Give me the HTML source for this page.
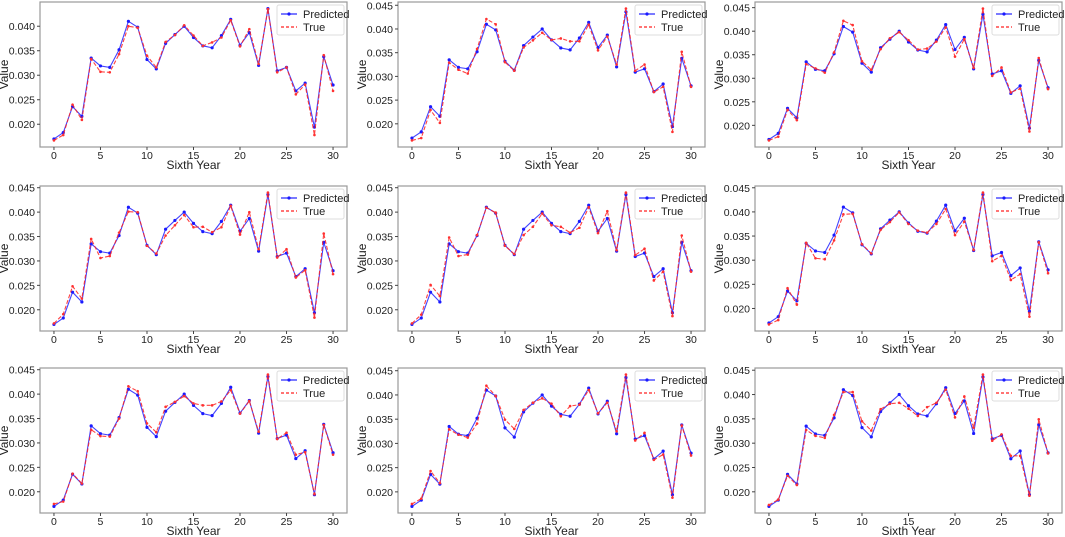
<!DOCTYPE html>
<html><head><meta charset="utf-8"><style>
html,body{margin:0;padding:0;background:#fff;width:1065px;height:537px;overflow:hidden}
svg text{font-family:"Liberation Sans",sans-serif;fill:#222}
</style></head><body>
<svg id="fig" width="1065" height="537" xmlns="http://www.w3.org/2000/svg"></svg>
<script>
const years = [0,1,2,3,4,5,6,7,8,9,10,11,12,13,14,15,16,17,18,19,20,21,22,23,24,25,26,27,28,29,30];
const xTicks = [0,5,10,15,20,25,30];
const predicted = [.0170,.0183,.0236,.0216,.0335,.0319,.0316,.0352,.0410,.0398,.0332,.0313,.0365,.0383,.0400,.0377,.0360,.0356,.0381,.0414,.0361,.0387,.0320,.0436,.0309,.0316,.0268,.0284,.0194,.0338,.0280];
const true1 = [.0167,.0178,.0240,.0209,.0333,.0307,.0306,.0343,.0400,.0397,.0340,.0316,.0368,.0382,.0402,.0381,.0360,.0367,.0377,.0412,.0359,.0394,.0323,.0435,.0306,.0316,.0261,.0281,.0178,.0341,.0268];
const true2 = [.0165,.0170,.0229,.0202,.0329,.0314,.0306,.0358,.0421,.0410,.0330,.0312,.0361,.0376,.0392,.0377,.0380,.0374,.0374,.0409,.0355,.0384,.0325,.0443,.0312,.0325,.0267,.0278,.0183,.0352,.0278];
const true3 = [.0168,.0176,.0233,.0211,.0330,.0321,.0312,.0355,.0422,.0413,.0336,.0318,.0362,.0385,.0398,.0381,.0361,.0363,.0378,.0408,.0346,.0383,.0322,.0448,.0305,.0323,.0270,.0278,.0187,.0343,.0277];
const true4 = [.0172,.0191,.0248,.0223,.0345,.0306,.0310,.0358,.0401,.0400,.0331,.0315,.0352,.0373,.0394,.0369,.0370,.0359,.0369,.0413,.0354,.0400,.0324,.0440,.0307,.0324,.0266,.0281,.0184,.0356,.0273];
const true5 = [.0172,.0190,.0251,.0228,.0348,.0310,.0313,.0353,.0409,.0399,.0331,.0314,.0353,.0370,.0397,.0373,.0370,.0358,.0368,.0410,.0357,.0402,.0322,.0440,.0312,.0325,.0260,.0278,.0187,.0352,.0278];
const true6 = [.0167,.0176,.0242,.0208,.0336,.0304,.0302,.0341,.0395,.0396,.0333,.0314,.0363,.0379,.0399,.0375,.0361,.0357,.0375,.0406,.0352,.0380,.0321,.0440,.0298,.0309,.0259,.0271,.0183,.0337,.0273];
const true7 = [.0175,.0180,.0237,.0217,.0327,.0314,.0313,.0350,.0416,.0406,.0340,.0322,.0374,.0384,.0396,.0381,.0377,.0377,.0385,.0408,.0360,.0386,.0323,.0440,.0308,.0321,.0276,.0281,.0195,.0337,.0276];
const true8 = [.0175,.0186,.0243,.0218,.0329,.0318,.0312,.0341,.0419,.0398,.0349,.0330,.0369,.0384,.0393,.0382,.0356,.0377,.0380,.0410,.0362,.0384,.0325,.0442,.0306,.0322,.0266,.0277,.0188,.0337,.0275];
const true9 = [.0173,.0184,.0233,.0214,.0327,.0315,.0311,.0358,.0405,.0405,.0345,.0326,.0370,.0381,.0383,.0371,.0356,.0374,.0383,.0410,.0353,.0396,.0332,.0441,.0305,.0318,.0274,.0274,.0192,.0349,.0279];
const trueSeries = [true1,true2,true3,true4,true5,true6,true7,true8,true9];

const NS = "http://www.w3.org/2000/svg";
const svg = document.getElementById('fig');
function mk(tag, attrs, parent){const e=document.createElementNS(NS,tag);for(const k in attrs)e.setAttribute(k,attrs[k]);(parent||svg).appendChild(e);return e;}

const colLeft=[40,398,755], rowTop=[2,186,368], W=307, H=145;

for(let p=0;p<9;p++){
  const c=p%3, r=Math.floor(p/3);
  const L=colLeft[c], T=rowTop[r];
  const tv=trueSeries[p];
  const all=predicted.concat(tv);
  let mn=Math.min(...all), mx=Math.max(...all), pad=(mx-mn)*0.05;
  const y0=mn-pad, y1=mx+pad;
  const xS=v=>L+(v+1.5)/33*W;
  const yS=v=>T+H-(v-y0)/(y1-y0)*H;
  const g=mk('g',{});
  
  
  const frame=mk('rect',{x:L,y:T,width:W,height:H,fill:'#fff',stroke:'#999','stroke-width':1.2},g);
  
  
  for(const t of xTicks){
    const x=xS(t);
    mk('line',{x1:x,x2:x,y1:T+H,y2:T+H+3,stroke:'#444'},g);
    const tx=mk('text',{x:x,y:T+H+12,'font-size':10.5,'text-anchor':'middle'},g);
    tx.textContent=t;
    
    
  }
  for(let k=Math.ceil(y0/0.005);k*0.005<=y1+1e-9;k++){
    const v=k*0.005, y=yS(v);
    mk('line',{x1:L-3,x2:L,y1:y,y2:y,stroke:'#444'},g);
    const ty=mk('text',{x:L-5,y:y+4,'font-size':10.5,'text-anchor':'end'},g);
    ty.textContent=v.toFixed(3);
    
    
  }
  const xt=mk('text',{x:L+W/2,y:T+H+22,'font-size':12,'text-anchor':'middle'},g);
  xt.textContent='Sixth Year';
  
  
  const yt=mk('text',{x:0,y:0,'font-size':12,'text-anchor':'middle',transform:`translate(${L-32},${T+H/2}) rotate(-90)`},g);
  yt.textContent='Value';
  
  
  const pp=predicted.map((v,i)=>xS(years[i])+','+yS(v)).join(' ');
  const tp=tv.map((v,i)=>xS(years[i])+','+yS(v)).join(' ');
  const pl=mk('polyline',{points:pp,fill:'none',stroke:'#2222ff','stroke-width':1.1,'stroke-opacity':0.85},g);
  
  
  predicted.forEach((v,i)=>{const d=mk('circle',{cx:xS(years[i]),cy:yS(v),r:1.6,fill:'#1a1aff'},g);
    
    });
  const tl=mk('polyline',{points:tp,fill:'none',stroke:'#ff2020','stroke-width':1.1,'stroke-dasharray':'4,2','stroke-opacity':0.85},g);
  
  
  tv.forEach((v,i)=>{const d=mk('circle',{cx:xS(years[i]),cy:yS(v),r:1.3,fill:'#ff3030'},g);
    
    });
  const lx=L+W-70, ly=T+3;
  const lg=mk('g',{},g);
  
  
  mk('rect',{x:lx,y:ly,width:67,height:30,rx:2,fill:'#fff','fill-opacity':0.85,stroke:'#ddd'},lg);
  mk('line',{x1:lx+4,x2:lx+20,y1:ly+9,y2:ly+9,stroke:'#2222ff','stroke-width':1.2},lg);
  mk('circle',{cx:lx+12,cy:ly+9,r:1.6,fill:'#1a1aff'},lg);
  const l1=mk('text',{x:lx+26,y:ly+13,'font-size':11},lg); l1.textContent='Predicted';
  
  
  mk('line',{x1:lx+4,x2:lx+20,y1:ly+22,y2:ly+22,stroke:'#ff2020','stroke-width':1.2,'stroke-dasharray':'3,2'},lg);
  const l2=mk('text',{x:lx+26,y:ly+26,'font-size':11},lg); l2.textContent='True';
  
  
}
</script>
</body></html>
